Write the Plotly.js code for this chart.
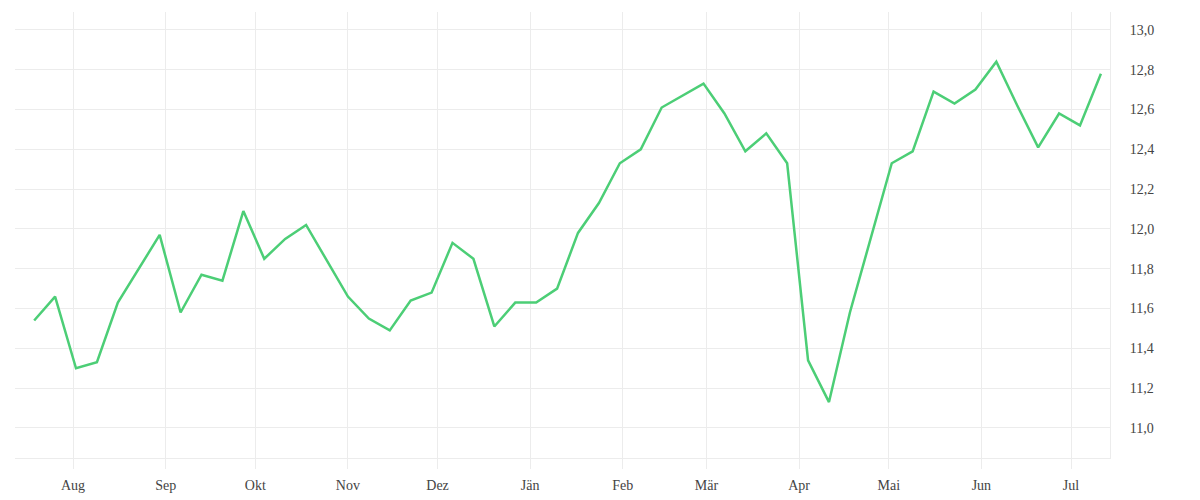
<!DOCTYPE html>
<html>
<head>
<meta charset="utf-8">
<script src="https://cdn.plot.ly/plotly-3.0.1.min.js"></script>
<style>
  html, body { margin: 0; padding: 0; background: #fff; }
  #chart { width: 1200px; height: 500px; }
</style>
</head>
<body>
<div id="chart"></div>
<script>
// weekly values
const dates = [
  '2022-07-19', '2022-07-26', '2022-08-02', '2022-08-09', '2022-08-16', '2022-08-23',
  '2022-08-30', '2022-09-06', '2022-09-13', '2022-09-20', '2022-09-27', '2022-10-04',
  '2022-10-11', '2022-10-18', '2022-10-25', '2022-11-01', '2022-11-08', '2022-11-15',
  '2022-11-22', '2022-11-29', '2022-12-06', '2022-12-13', '2022-12-20', '2022-12-27',
  '2023-01-03', '2023-01-10', '2023-01-17', '2023-01-24', '2023-01-31', '2023-02-07',
  '2023-02-14', '2023-02-21', '2023-02-28', '2023-03-07', '2023-03-14', '2023-03-21',
  '2023-03-28', '2023-04-04', '2023-04-11', '2023-04-18', '2023-04-25', '2023-05-02',
  '2023-05-09', '2023-05-16', '2023-05-23', '2023-05-30', '2023-06-06', '2023-06-13',
  '2023-06-20', '2023-06-27', '2023-07-04', '2023-07-11'
];
const values = [
  11.54, 11.66, 11.30, 11.33, 11.63, 11.80, 11.97, 11.58, 11.77, 11.74, 12.09, 11.85,
  11.95, 12.02, 11.84, 11.66, 11.55, 11.49, 11.64, 11.68, 11.93, 11.85, 11.51, 11.63,
  11.63, 11.70, 11.98, 12.13, 12.33, 12.40, 12.61, 12.67, 12.73, 12.58, 12.39, 12.48,
  12.33, 11.34, 11.13, 11.58, 11.95, 12.33, 12.39, 12.69, 12.63, 12.70, 12.84, 12.62,
  12.41, 12.58, 12.52, 12.78
];
const monthTicks = [
  '2022-08-01', '2022-09-01', '2022-10-01', '2022-11-01', '2022-12-01', '2023-01-01',
  '2023-02-01', '2023-03-01', '2023-04-01', '2023-05-01', '2023-06-01', '2023-07-01'
];
const monthLabels = ['Aug', 'Sep', 'Okt', 'Nov', 'Dez', 'Jän', 'Feb', 'Mär', 'Apr', 'Mai', 'Jun', 'Jul'];

const grid = '#ececec';
const font = { family: 'Liberation Serif, serif', size: 14, color: '#444' };

const trace = {
  x: dates,
  y: values,
  type: 'scatter',
  mode: 'lines',
  line: { color: 'rgb(76,206,118)', width: 2.5 },
  hoverinfo: 'skip'
};

const layout = {
  width: 1200, height: 500,
  paper_bgcolor: '#fff', plot_bgcolor: '#fff',
  font,
  separators: ', ',
  showlegend: false,
  margin: { l: 15, r: 90, t: 12, b: 42, pad: 0 },
  xaxis: {
    type: 'date',
    range: ['2022-07-12 14:00', '2023-07-14 01:00'],
    tickmode: 'array', tickvals: monthTicks, ticktext: monthLabels,
    showgrid: true, gridcolor: grid, gridwidth: 1,
    zeroline: false,
    showline: true, linecolor: grid, linewidth: 1,
    ticks: 'outside', ticklen: 10, tickcolor: grid, tickwidth: 1,
    ticklabelstandoff: 4,
    tickfont: font
  },
  yaxis: {
    side: 'right',
    range: [10.849, 13.09],
    tick0: 11, dtick: 0.2, tickformat: '.1f',
    showgrid: true, gridcolor: grid, gridwidth: 1,
    zeroline: false,
    showline: true, linecolor: grid, linewidth: 1,
    ticks: '',
    ticklabelstandoff: 16,
    tickfont: font
  }
};

Plotly.newPlot('chart', [trace], layout, { displayModeBar: false, staticPlot: true });
</script>
</body>
</html>
